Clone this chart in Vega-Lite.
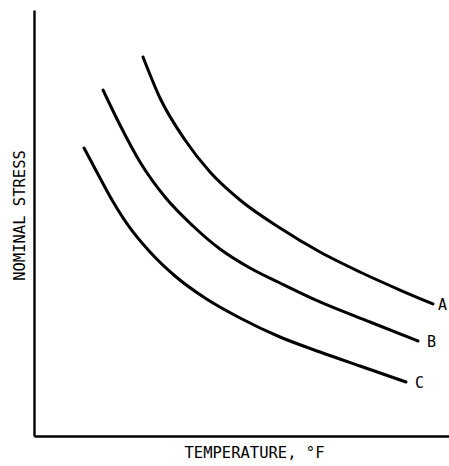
{
  "$schema": "https://vega.github.io/schema/vega-lite/v6.json",
  "width": 415,
  "height": 426,
  "padding": {"left": 34, "top": 10, "right": 0, "bottom": 30},
  "autosize": {"type": "none"},
  "background": "white",
  "config": {
    "view": {"stroke": null},
    "font": "DejaVu Sans Mono"
  },
  "datasets": {
    "curves": [
      {"series": "A", "temp": 26.27, "stress": 88.97},
      {"series": "A", "temp": 30.36, "stress": 79.34},
      {"series": "A", "temp": 36.39, "stress": 69.48},
      {"series": "A", "temp": 42.41, "stress": 61.97},
      {"series": "A", "temp": 49.64, "stress": 55.40},
      {"series": "A", "temp": 59.28, "stress": 48.83},
      {"series": "A", "temp": 68.92, "stress": 43.19},
      {"series": "A", "temp": 78.55, "stress": 38.50},
      {"series": "A", "temp": 88.19, "stress": 34.27},
      {"series": "A", "temp": 96.14, "stress": 30.99},
      {"series": "B", "temp": 16.63, "stress": 81.22},
      {"series": "B", "temp": 20.72, "stress": 73.00},
      {"series": "B", "temp": 25.54, "stress": 64.32},
      {"series": "B", "temp": 31.57, "stress": 56.10},
      {"series": "B", "temp": 38.31, "stress": 49.30},
      {"series": "B", "temp": 44.82, "stress": 43.90},
      {"series": "B", "temp": 52.05, "stress": 39.44},
      {"series": "B", "temp": 59.28, "stress": 35.92},
      {"series": "B", "temp": 68.92, "stress": 31.46},
      {"series": "B", "temp": 80.96, "stress": 26.76},
      {"series": "B", "temp": 92.53, "stress": 22.30},
      {"series": "C", "temp": 12.05, "stress": 67.61},
      {"series": "C", "temp": 15.90, "stress": 60.56},
      {"series": "C", "temp": 18.80, "stress": 55.40},
      {"series": "C", "temp": 23.13, "stress": 48.83},
      {"series": "C", "temp": 27.95, "stress": 43.19},
      {"series": "C", "temp": 33.98, "stress": 37.56},
      {"series": "C", "temp": 41.20, "stress": 32.39},
      {"series": "C", "temp": 49.64, "stress": 27.70},
      {"series": "C", "temp": 59.28, "stress": 23.24},
      {"series": "C", "temp": 68.92, "stress": 19.72},
      {"series": "C", "temp": 78.55, "stress": 16.43},
      {"series": "C", "temp": 89.64, "stress": 12.68}
    ],
    "labels": [
      {"series": "A", "temp": 96.14, "stress": 30.99},
      {"series": "B", "temp": 92.53, "stress": 22.30},
      {"series": "C", "temp": 89.64, "stress": 12.68}
    ]
  },
  "layer": [
    {
      "data": {"name": "curves"},
      "mark": {"type": "line", "color": "black", "strokeWidth": 3, "interpolate": "monotone", "strokeCap": "round"},
      "encoding": {
        "x": {
          "field": "temp", "type": "quantitative",
          "scale": {"domain": [0, 100], "nice": false, "zero": false},
          "axis": {
            "title": "TEMPERATURE, °F",
            "titleFont": "DejaVu Sans Mono", "titleFontSize": 15.5, "titleFontWeight": "normal", "titleColor": "black",
            "titlePadding": 9, "titleX": 220,
            "labels": false, "ticks": false, "grid": false,
            "domainColor": "black", "domainWidth": 2.4
          }
        },
        "y": {
          "field": "stress", "type": "quantitative",
          "scale": {"domain": [0, 100], "nice": false, "zero": false},
          "axis": {
            "title": "NOMINAL STRESS",
            "titleFont": "DejaVu Sans Mono", "titleFontSize": 15.5, "titleFontWeight": "normal", "titleColor": "black",
            "titlePadding": 7, "titleY": 205,
            "labels": false, "ticks": false, "grid": false,
            "domainColor": "black", "domainWidth": 2.4
          }
        },
        "detail": {"field": "series"}
      }
    },
    {
      "data": {"name": "labels"},
      "transform": [{"filter": "datum.series === 'A'"}],
      "mark": {"type": "text", "align": "left", "baseline": "middle", "dx": 5, "dy": 1, "fontSize": 15, "font": "DejaVu Sans Mono", "color": "black"},
      "encoding": {
        "x": {"field": "temp", "type": "quantitative"},
        "y": {"field": "stress", "type": "quantitative"},
        "text": {"field": "series"}
      }
    },
    {
      "data": {"name": "labels"},
      "transform": [{"filter": "datum.series !== 'A'"}],
      "mark": {"type": "text", "align": "left", "baseline": "middle", "dx": 9, "dy": 1, "fontSize": 15, "font": "DejaVu Sans Mono", "color": "black"},
      "encoding": {
        "x": {"field": "temp", "type": "quantitative"},
        "y": {"field": "stress", "type": "quantitative"},
        "text": {"field": "series"}
      }
    }
  ]
}
